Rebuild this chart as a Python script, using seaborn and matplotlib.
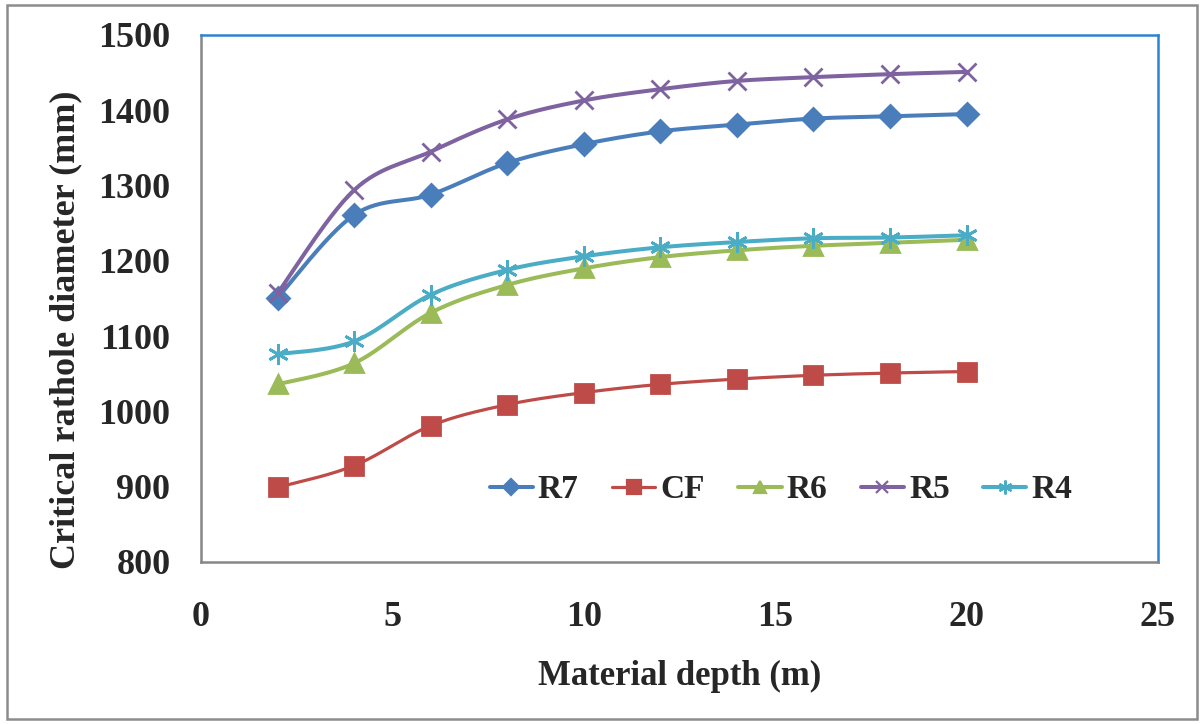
import numpy as np
import pandas as pd
import matplotlib
matplotlib.use("Agg")
import matplotlib.pyplot as plt
from matplotlib.lines import Line2D
from matplotlib.patches import Rectangle
import seaborn as sns

# Critical rathole diameter vs. material depth for each material
depth = [2, 4, 6, 8, 10, 12, 14, 16, 18, 20]
r7 = [1151, 1261, 1288, 1330, 1355, 1372, 1381, 1389, 1392, 1395]
cf = [899, 928, 981, 1009, 1025, 1036, 1043, 1048, 1051, 1053]
r6 = [1036, 1064, 1131, 1168, 1190, 1205, 1214, 1220, 1224, 1228]
r5 = [1157, 1294, 1345, 1388, 1413, 1428, 1439, 1444, 1448, 1451]
r4 = [1076, 1093, 1155, 1188, 1206, 1218, 1225, 1230, 1231, 1234]

series_names = ["R7", "CF", "R6", "R5", "R4"]
series_values = [r7, cf, r6, r5, r4]
colors = ["#4A7EBB", "#BE4B48", "#9BBB59", "#7F63A1", "#4BACC6"]
markers = ["D", "s", "^", "x", (6, 2, 0)]
marker_sizes = [11, 13, 13, 13, 15]
line_widths = [2.9, 2.3, 2.9, 2.9, 2.9]
legend_ms = [8, 10, 9, 9, 10]

x_ticks = [0, 5, 10, 15, 20, 25]
y_ticks = [800, 900, 1000, 1100, 1200, 1300, 1400, 1500]


def smooth_curve(xs, ys, steps=30):
    """Bezier smoothing through every point (spreadsheet-style smoothed line)."""
    xs = np.asarray(xs, float)
    ys = np.asarray(ys, float)
    pts = np.column_stack([xs, ys])
    n = len(pts)
    out = []
    t = np.linspace(0, 1, steps)[:, None]
    for i in range(n - 1):
        p0 = pts[max(i - 1, 0)]
        p1 = pts[i]
        p2 = pts[i + 1]
        p3 = pts[min(i + 2, n - 1)]
        c1 = p1 + (p2 - p0) / 6.0
        c2 = p2 - (p3 - p1) / 6.0
        seg = ((1 - t) ** 3) * p1 + 3 * ((1 - t) ** 2) * t * c1 + 3 * (1 - t) * t ** 2 * c2 + t ** 3 * p2
        out.append(seg if i == 0 else seg[1:])
    seg = np.vstack(out)
    return seg[:, 0], seg[:, 1]


sns.set_style("white")
plt.rcParams["font.family"] = ["Liberation Serif", "DejaVu Serif"]
plt.rcParams["font.weight"] = "bold"

fig = plt.figure(figsize=(12.04, 7.24), dpi=100)
ax = fig.add_axes([201 / 1204, 1 - 562 / 724, 957 / 1204, 527 / 724])

handles = []
for name, vals, col, mk, ms, lw, lms in zip(series_names, series_values, colors,
                                            markers, marker_sizes, line_widths, legend_ms):
    sx, sy = smooth_curve(depth, vals)
    curve = pd.DataFrame({"depth": sx, "diameter": sy})
    sns.lineplot(data=curve, x="depth", y="diameter", ax=ax, color=col, lw=lw,
                 sort=False, estimator=None, legend=False)
    ax.plot(depth, vals, linestyle="none", marker=mk, ms=ms, color=col,
            mec=col, mfc=col, mew=2.0)
    handles.append(Line2D([0], [0], color=col, lw=lw, marker=mk, ms=lms,
                          mfc=col, mec=col, mew=1.6))

ax.set_xlim(0, 25)
ax.set_ylim(800, 1500)
ax.set_xticks(x_ticks)
ax.set_yticks(y_ticks)
ax.tick_params(axis="both", which="major", direction="out", color="#868686",
               width=1.5, labelsize=26)
ax.tick_params(axis="y", length=9, pad=13)
ax.tick_params(axis="x", length=9, pad=19)
for lab in ax.get_xticklabels() + ax.get_yticklabels():
    lab.set_fontweight("bold")

for side in ["left", "bottom"]:
    ax.spines[side].set_color("#868686")
    ax.spines[side].set_linewidth(1.8)
for side in ["top", "right"]:
    ax.spines[side].set_color("#2B84D3")
    ax.spines[side].set_linewidth(1.8)
    ax.spines[side].set_visible(True)

ax.set_xlabel("Material depth (m)", fontsize=25, fontweight="bold")
ax.xaxis.set_label_coords(0.5, -0.186)
ax.set_ylabel("Critical rathole diameter (mm)", fontsize=26, fontweight="bold")
ax.yaxis.set_label_coords(-0.124, 0.44)

leg = ax.legend(handles, series_names, loc="center", bbox_to_anchor=(0.606, 0.137),
                ncol=5, frameon=False, handlelength=1.3, handletextpad=0.15,
                columnspacing=1.0, prop={"size": 24, "weight": "bold"})

fig.patches.append(Rectangle((7 / 1204, 5 / 724), 1190 / 1204, 714 / 724,
                             transform=fig.transFigure, fill=False,
                             edgecolor="#8C8C8C", lw=1.8))

fig.savefig("out.png", dpi=100)
